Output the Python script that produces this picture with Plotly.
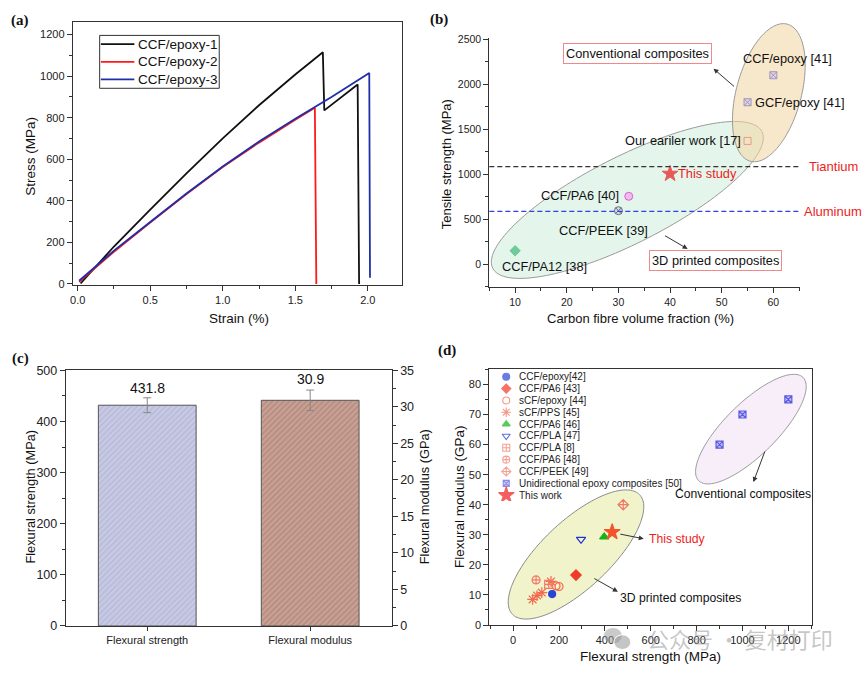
import numpy as np
import plotly.graph_objects as go

W, H = 865, 680
FONT = "Liberation Sans, Arial, sans-serif"
SERIF = "Liberation Serif, Times New Roman, serif"

# ---------------- data ----------------
# (a) tensile stress-strain curves
a_names = ["CCF/epoxy-1", "CCF/epoxy-2", "CCF/epoxy-3"]
a_strain_1 = [0.02, 0.25, 0.5, 0.75, 1.0, 1.25, 1.5, 1.69, 1.70, 1.93, 1.94]
a_stress_1 = [2, 180, 358, 532, 700, 860, 1008, 1115, 835, 960, 0]
a_strain_2 = [0.01, 0.25, 0.5, 0.75, 1.0, 1.25, 1.5, 1.635, 1.645]
a_stress_2 = [10, 155, 295, 432, 563, 680, 790, 848, 0]
a_strain_3 = [0.01, 0.25, 0.5, 0.75, 1.0, 1.25, 1.5, 1.75, 2.01, 2.015]
a_stress_3 = [15, 160, 298, 435, 565, 685, 795, 900, 1015, 30]

# (b) tensile strength vs fibre volume fraction
b_names = ["CCF/epoxy [41]", "GCF/epoxy [41]", "Our eariler work [17]", "This study",
           "CCF/PA6 [40]", "CCF/PEEK [39]", "CCF/PA12 [38]"]
b_vf = [60, 55, 55, 40, 32, 30, 10]
b_ts = [2100, 1800, 1370, 1005, 755, 595, 150]
b_ref_names = ["Tiantium", "Aluminum"]
b_ref_vals = [1085, 588]

# (c) flexural properties
c_cats = ["Flexural strength", "Flexural modulus"]
c_strength, c_strength_err = 431.8, 14.5
c_modulus, c_modulus_err = 30.9, 1.4

# (d) flexural modulus vs flexural strength
d_names = ["CCF/epoxy[42]", "CCF/PA6 [43]", "sCF/epoxy [44]", "sCF/PPS [45]", "CCF/PA6 [46]",
           "CCF/PLA [47]", "CCF/PLA [8]", "CCF/PA6 [48]", "CCF/PEEK [49]",
           "Unidirectional epoxy composites [50]", "This work"]
d_x = [[170], [274], [187, 200], [85, 104, 125, 165], [397], [296], [155], [100], [480],
       [900, 1000, 1200], [431.8]]
d_y = [[10.3], [16.6], [13.0, 12.8], [8.5, 9.8, 10.8, 14.5], [29.3], [28.5], [13.5], [15.0], [40.0],
       [60, 70, 75], [30.9]]

# ---------------- geometry (pixels) ----------------
GEO = {
    "a": dict(px=(70, 400, 15, 284), xr=[-0.034, 2.233], yr=[-6, 1262]),
    "b": dict(px=(488, 800, 32, 286), xr=[5, 65.2], yr=[-254, 2510]),
    "c": dict(px=(63, 390, 371, 632), xr=[-0.5, 1.5], yr=[0, 500]),
    "d": dict(px=(488, 812, 370, 631), xr=[-104, 1304], yr=[0, 85]),
}


def xdom(k):
    p = GEO[k]["px"]
    return [p[0] / W, p[1] / W]


def ydom(k):
    p = GEO[k]["px"]
    return [1 - p[3] / H, 1 - p[2] / H]


def P(x, y):
    return x / W, 1 - y / H


def ellipse_path(cx, cy, a, b, th):
    t = np.linspace(0, 2 * np.pi, 160, endpoint=False)
    th = np.radians(th)
    dx = a * np.cos(t) * np.cos(th) - b * np.sin(t) * np.sin(th)
    dy = a * np.cos(t) * np.sin(th) + b * np.sin(t) * np.cos(th)
    xs = (cx + dx) / W
    ys = 1 - (cy - dy) / H
    pts = " L ".join(f"{x:.5f},{y:.5f}" for x, y in zip(xs, ys))
    return "M " + pts + " Z"


fig = go.Figure()

# ---------------- (a) ----------------
a_cols = ["#111111", "#ff1a1a", "#1f2fa8"]
for nm, xs, ys, col in zip(a_names, [a_strain_1, a_strain_2, a_strain_3],
                           [a_stress_1, a_stress_2, a_stress_3], a_cols):
    fig.add_trace(go.Scatter(x=xs, y=ys, mode="lines", name=nm, line=dict(color=col, width=1.8),
                             xaxis="x", yaxis="y", showlegend=False))
# compact legend for (a) on a hidden helper axis
for i, (nm, col) in enumerate(zip(a_names, a_cols)):
    fig.add_trace(go.Scatter(x=[0.01, 0.29], y=[i, i], mode="lines", line=dict(color=col, width=1.8),
                             xaxis="x7", yaxis="y7", showlegend=False, hoverinfo="skip"))

# ---------------- (b) ----------------
b_sym = ["square-x", "square-x", "square-open", "star", "circle", "circle-x", "diamond"]
b_col = ["#d6d0ee", "#d6d0ee", "#f07a6a", "#e81818", "#f4a6ee", "#d0d0e6", "#3cb878"]
b_lc = ["#7d70b5", "#7d70b5", "#f07a6a", "#e81818", "#d81fc8", "#303050", "#3cb878"]
b_sz = [7, 7, 7, 12, 8, 8, 8]
fig.add_trace(go.Scatter(x=b_vf, y=b_ts, mode="markers", xaxis="x2", yaxis="y2", showlegend=False,
                         marker=dict(symbol=b_sym, color=b_col, size=b_sz,
                                     line=dict(color=b_lc, width=1))))

# ---------------- (c) ----------------
fig.add_trace(go.Bar(x=[c_cats[0]], y=[c_strength], width=0.6, xaxis="x3", yaxis="y3",
                     showlegend=False,
                     marker=dict(color="#c8cae4", line=dict(color="#555", width=1),
                                 pattern=dict(shape="/", bgcolor="#c8cae4", fgcolor="#a2a5ca",
                                              size=4, solidity=0.35)),
                     error_y=dict(type="data", array=[c_strength_err], color="#888",
                                  thickness=1, width=4)))
fig.add_trace(go.Bar(x=[c_cats[1]], y=[c_modulus], width=0.6, xaxis="x3", yaxis="y4",
                     showlegend=False,
                     marker=dict(color="#c9a194", line=dict(color="#555", width=1),
                                 pattern=dict(shape="/", bgcolor="#c9a194", fgcolor="#9a6f63",
                                              size=4, solidity=0.35)),
                     error_y=dict(type="data", array=[c_modulus_err], color="#888",
                                  thickness=1, width=4)))

# ---------------- (d) ----------------
d_sym = ["circle", "diamond", "circle-open", "asterisk-open", "triangle-up", "triangle-down-open",
         "square-cross-open", "circle-cross-open", "diamond-cross-open", "square-x", "star"]
d_col = ["#2a45d6", "#f03a2a", "#f26a50", "#f26a50", "#14b414", "#2030d0",
         "#f07a6a", "#f07a6a", "#f07a6a", "#c4c4f6", "#f2552e"]
d_lc = ["#2a45d6", "#f03a2a", "#f26a50", "#f26a50", "#14b414", "#2030d0",
        "#f07a6a", "#f07a6a", "#f07a6a", "#5a5ae0", "#f2552e"]
d_sz = [7, 8, 8, 9, 8, 8, 8, 8, 8, 7, 12]
for i in range(len(d_names)):
    fig.add_trace(go.Scatter(x=d_x[i], y=d_y[i], mode="markers", xaxis="x4", yaxis="y5",
                             showlegend=False, name=d_names[i],
                             marker=dict(symbol=d_sym[i], color=d_col[i], size=d_sz[i],
                                         line=dict(color=d_lc[i], width=1.2))))

# compact legend for (d)
leg_idx = list(range(len(d_names)))
leg_col = list(d_col)
leg_col[-1] = "#ee1c1c"
leg_lc = list(d_lc)
leg_lc[-1] = "#ee1c1c"
leg_sz = [7, 7, 7, 8, 7, 7, 7, 7, 7, 6, 12]
fig.add_trace(go.Scatter(x=[0.0304] * len(d_names), y=leg_idx, mode="markers", xaxis="x6", yaxis="y6",
                         showlegend=False,
                         marker=dict(symbol=d_sym, color=leg_col, size=leg_sz,
                                     line=dict(color=leg_lc, width=1.1))))

# ---------------- axes ----------------
TICKC = "#333"


def ax(**kw):
    base = dict(showline=True, linecolor=TICKC, linewidth=1, showgrid=False, zeroline=False,
                ticks="outside", ticklen=5, tickwidth=1, tickcolor=TICKC,
                tickfont=dict(family=FONT, size=11, color="#222"))
    base.update(kw)
    return base


layout = dict(
    width=W, height=H, margin=dict(l=0, r=0, t=0, b=0),
    paper_bgcolor="white", plot_bgcolor="rgba(0,0,0,0)",
    font=dict(family=FONT, color="#111"),
    barmode="overlay", showlegend=False,
    xaxis=ax(domain=xdom("a"), range=GEO["a"]["xr"], anchor="y", tick0=0, dtick=0.5,
             tickformat=".1f", mirror=True,
             minor=dict(ticks="outside", ticklen=3, dtick=0.25, tickcolor=TICKC)),
    yaxis=ax(domain=ydom("a"), range=GEO["a"]["yr"], anchor="x", tick0=0, dtick=200, mirror=True,
             minor=dict(ticks="outside", ticklen=3, dtick=100, tickcolor=TICKC)),
    xaxis2=ax(domain=xdom("b"), range=GEO["b"]["xr"], anchor="y2", tick0=0, dtick=10,
              tickfont=dict(family=FONT, size=10.5, color="#222"),
              minor=dict(ticks="outside", ticklen=3, dtick=5, tickcolor=TICKC)),
    yaxis2=ax(domain=ydom("b"), range=GEO["b"]["yr"], anchor="x2", tick0=0, dtick=500,
              tickfont=dict(family=FONT, size=10.5, color="#222"),
              minor=dict(ticks="outside", ticklen=3, dtick=250, tickcolor=TICKC)),
    xaxis3=ax(domain=xdom("c"), range=GEO["c"]["xr"], anchor="y3", type="category", mirror=True,
              ticklen=4, categoryorder="array", categoryarray=c_cats,
              tickfont=dict(family=FONT, size=11, color="#222")),
    yaxis3=ax(domain=ydom("c"), range=[0, 500], anchor="x3", tick0=0, dtick=100,
              tickfont=dict(family=FONT, size=12.5, color="#222"),
              minor=dict(ticks="outside", ticklen=3, dtick=50, tickcolor=TICKC)),
    yaxis4=ax(range=[0, 35], anchor="x3", overlaying="y3", side="right", tick0=0, dtick=5,
              tickfont=dict(family=FONT, size=12.5, color="#222"),
              minor=dict(ticks="outside", ticklen=3, dtick=2.5, tickcolor=TICKC)),
    xaxis4=ax(domain=xdom("d"), range=GEO["d"]["xr"], anchor="y5", tick0=0, dtick=200, mirror=True,
              tickfont=dict(family=FONT, size=11, color="#222"),
              minor=dict(ticks="outside", ticklen=3, dtick=100, tickcolor=TICKC)),
    yaxis5=ax(domain=ydom("d"), range=GEO["d"]["yr"], anchor="x4", tick0=0, dtick=10, mirror=True,
              tickfont=dict(family=FONT, size=11, color="#222"),
              minor=dict(ticks="outside", ticklen=3, dtick=5, tickcolor=TICKC)),
    xaxis6=dict(domain=[497 / W, 760 / W], range=[0, 1], visible=False, anchor="y6", fixedrange=True),
    yaxis6=dict(domain=[1 - 504.5 / H, 1 - 371.5 / H], range=[len(d_names) - 0.5, -0.5],
                visible=False, anchor="x6", fixedrange=True),
    xaxis7=dict(domain=[97 / W, 217 / W], range=[0, 1], visible=False, anchor="y7", fixedrange=True),
    yaxis7=dict(domain=[1 - 83 / H, 1 - 29 / H], range=[len(a_names) - 0.5, -0.5],
                visible=False, anchor="x7", fixedrange=True),
)

ann = []


def txt(x, y, s, size=13, color="#111", angle=0, xanchor="center", yanchor="middle", family=FONT,
        weight="normal", **kw):
    px, py = P(x, y)
    d = dict(x=px, y=py, xref="paper", yref="paper", text=s, showarrow=False, textangle=angle,
             xanchor=xanchor, yanchor=yanchor,
             font=dict(family=family, size=size, color=color, weight=weight))
    d.update(kw)
    ann.append(d)


def arrow(tx, ty, hx, hy):
    px, py = P(hx, hy)
    ann.append(dict(x=px, y=py, xref="paper", yref="paper", text="", showarrow=True,
                    axref="pixel", ayref="pixel", ax=tx - hx, ay=ty - hy,
                    arrowhead=2, arrowsize=1, arrowwidth=1, arrowcolor="#333"))


# panel labels
for lab, (x, y) in zip(["(a)", "(b)", "(c)", "(d)"], [(17, 14), (438, 13), (18, 359), (446, 351)]):
    txt(x, y, lab, size=15, family=SERIF, weight="bold")

# (a) legend texts
for i, nm in enumerate(a_names):
    ann.append(dict(x=0.29, y=i, xref="x7", yref="y7", text=nm, showarrow=False, xanchor="left",
                    yanchor="middle", xshift=2, font=dict(family=FONT, size=13.5, color="#111")))

# axis titles
txt(28, 152, "Stress (MPa)", size=13.5, angle=-90)
txt(237, 318, "Strain (%)", size=13.5)
txt(445, 160, "Tensile strength (MPa)", size=13, angle=-90)
txt(640, 318, "Carbon fibre volume fraction (%)", size=13)
txt(28, 500, "Flexural strength (MPa)", size=12.8, angle=-90)
txt(423, 500, "Flexural modulus (GPa)", size=12.8, angle=-90)
txt(458, 500, "Flexural modulus (GPa)", size=13.5, angle=-90)
txt(650, 663, "Flexural strength (MPa)", size=13.5)

# (b) point labels anchored to data
b_lab_style = [
    dict(xshift=14, yshift=17, xanchor="center", color="#111"),
    dict(xshift=5, yshift=0, xanchor="left", color="#111"),
    dict(xshift=-5, yshift=0, xanchor="right", color="#111"),
    dict(xshift=6, yshift=0, xanchor="left", color="#ee1c1c"),
    dict(xshift=-8, yshift=1, xanchor="right", color="#111"),
    dict(xshift=-15, yshift=-20, xanchor="center", color="#111"),
    dict(xshift=29, yshift=-16, xanchor="center", color="#111"),
]
for nm, xv, yv, st in zip(b_names, b_vf, b_ts, b_lab_style):
    ann.append(dict(x=xv, y=yv, xref="x2", yref="y2", text=nm, showarrow=False,
                    xanchor=st["xanchor"], yanchor="middle", xshift=st["xshift"], yshift=st["yshift"],
                    font=dict(family=FONT, size=12.8, color=st["color"])))
for nm, val in zip(b_ref_names, b_ref_vals):
    ann.append(dict(x=833 / W, y=val, xref="paper", yref="y2", text=nm, showarrow=False,
                    xanchor="center", yanchor="middle",
                    font=dict(family=FONT, size=13, color="#ee1c1c")))
txt(637, 47.5, "Conventional composites", size=12.8, bordercolor="#f08a8a", borderwidth=1,
    borderpad=2, bgcolor="white")
txt(715, 258.5, "3D printed composites", size=12.8, bordercolor="#f08a8a", borderwidth=1,
    borderpad=2, bgcolor="white")
arrow(735, 82, 713, 63)
arrow(663, 233, 687, 247)

# (c) value labels
ann.append(dict(x=c_cats[0], y=c_strength + c_strength_err, xref="x3", yref="y3", text="431.8",
                showarrow=False, xanchor="center", yanchor="bottom", yshift=0,
                font=dict(family=FONT, size=14, color="#111")))
ann.append(dict(x=c_cats[1], y=c_modulus + c_modulus_err, xref="x3", yref="y4", text="30.9",
                showarrow=False, xanchor="center", yanchor="bottom", yshift=1,
                font=dict(family=FONT, size=14, color="#111")))

# (d) legend texts
for i, nm in enumerate(d_names):
    ann.append(dict(x=0.0304, y=i, xref="x6", yref="y6", text=nm, showarrow=False,
                    xanchor="left", yanchor="middle", xshift=11,
                    font=dict(family=FONT, size=10, color="#222")))
txt(743, 497, "Conventional composites", size=12.2)
txt(680, 603, "3D printed composites", size=12.2)
txt(646, 543, "This study", size=12.2, color="#ee1c1c", xanchor="left")
arrow(765, 453, 753, 485)
arrow(618, 538, 643, 543)
arrow(592, 583, 617, 597)

# watermark
txt(740, 644, "公众号 · 复材打印", size=22, color="rgba(150,150,150,0.55)",
    family="Noto Sans CJK SC")

layout["annotations"] = ann

shapes = []
# region ellipses (drawn in paper space so they may extend beyond the axes, like the reference)
for (cx, cy, a, b, th), fc, lc in [
    ((626.5, 197, 152, 44, 27.4), "rgba(196,236,212,0.45)", "#9a9a9a"),
    ((768.5, 87.5, 72.4, 32.6, 75.3), "rgba(243,214,160,0.55)", "#9a9a9a"),
    ((575, 559, 88.3, 34.3, 43.8), "rgba(240,243,196,0.9)", "#8a8a8a"),
    ((750.5, 431, 74.3, 26.3, 45.3), "rgba(246,236,250,0.9)", "#9a9a9a"),
]:
    shapes.append(dict(type="path", xref="paper", yref="paper", path=ellipse_path(cx, cy, a, b, th),
                       fillcolor=fc, line=dict(color=lc, width=1), layer="below"))
for val, col in zip(b_ref_vals, ["#333333", "#3344dd"]):
    shapes.append(dict(type="line", xref="x2 domain", yref="y2", x0=0, x1=1, y0=val, y1=val,
                       line=dict(color=col, width=1.3, dash="5px,3px")))
# (a) legend frame
shapes.append(dict(type="rect", xref="paper", yref="paper", x0=97 / W, x1=217 / W,
                   y0=1 - 83 / H, y1=1 - 29 / H, line=dict(color="#333", width=1),
                   fillcolor="rgba(0,0,0,0)", layer="above"))
# watermark icon bubbles
shapes.append(dict(type="circle", xref="paper", yref="paper", x0=603 / W, x1=621 / W,
                   y0=1 - 650 / H, y1=1 - 634 / H, fillcolor="rgba(150,150,150,0.5)", line=dict(width=0)))
shapes.append(dict(type="circle", xref="paper", yref="paper", x0=613 / W, x1=630 / W,
                   y0=1 - 656 / H, y1=1 - 641 / H, fillcolor="rgba(150,150,150,0.55)",
                   line=dict(color="white", width=1)))
layout["shapes"] = shapes

fig.update_layout(**layout)
fig.write_html("out.html")
